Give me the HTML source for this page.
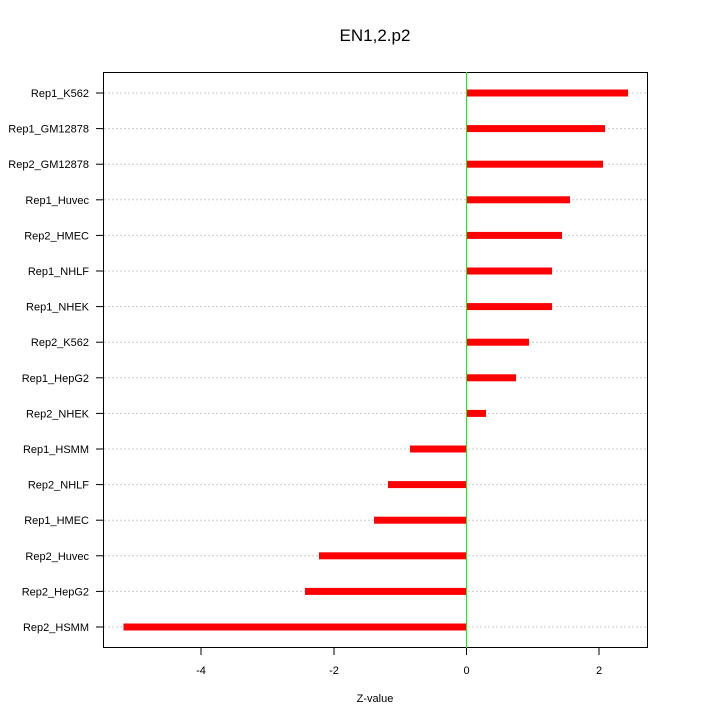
<!DOCTYPE html>
<html><head><style>body{margin:0;background:#fff}svg{display:block}text{font-family:"Liberation Sans",sans-serif;fill:#000}</style></head>
<body>
<svg width="720" height="720" xmlns="http://www.w3.org/2000/svg">
<text x="375" y="41" font-size="17" text-anchor="middle">EN1,2.p2</text>
<g stroke="#ccc" stroke-dasharray="2,2">
<line x1="104" x2="647" y1="93" y2="93"/><line x1="104" x2="647" y1="128.6" y2="128.6"/><line x1="104" x2="647" y1="164.2" y2="164.2"/><line x1="104" x2="647" y1="199.8" y2="199.8"/><line x1="104" x2="647" y1="235.4" y2="235.4"/><line x1="104" x2="647" y1="271" y2="271"/><line x1="104" x2="647" y1="306.6" y2="306.6"/><line x1="104" x2="647" y1="342.2" y2="342.2"/><line x1="104" x2="647" y1="377.8" y2="377.8"/><line x1="104" x2="647" y1="413.4" y2="413.4"/><line x1="104" x2="647" y1="449" y2="449"/><line x1="104" x2="647" y1="484.6" y2="484.6"/><line x1="104" x2="647" y1="520.2" y2="520.2"/><line x1="104" x2="647" y1="555.8" y2="555.8"/><line x1="104" x2="647" y1="591.4" y2="591.4"/><line x1="104" x2="647" y1="627" y2="627"/>
</g>
<g fill="#ff0000">
<rect x="466.5" y="89.5" width="161.5" height="7"/>
<rect x="466.5" y="125.1" width="138.5" height="7"/>
<rect x="466.5" y="160.7" width="136.5" height="7"/>
<rect x="466.5" y="196.3" width="103.5" height="7"/>
<rect x="466.5" y="231.9" width="95.5" height="7"/>
<rect x="466.5" y="267.5" width="85.5" height="7"/>
<rect x="466.5" y="303.1" width="85.5" height="7"/>
<rect x="466.5" y="338.7" width="62.5" height="7"/>
<rect x="466.5" y="374.3" width="49.5" height="7"/>
<rect x="466.5" y="409.9" width="19.5" height="7"/>
<rect x="410" y="445.5" width="56.5" height="7"/>
<rect x="388" y="481.1" width="78.5" height="7"/>
<rect x="374" y="516.7" width="92.5" height="7"/>
<rect x="319" y="552.3" width="147.5" height="7"/>
<rect x="305" y="587.9" width="161.5" height="7"/>
<rect x="123.5" y="623.5" width="343" height="7"/>
</g>
<rect x="103.5" y="72.5" width="544" height="575" fill="none" stroke="#000" stroke-width="1"/>
<line x1="466.5" y1="72" x2="466.5" y2="648" stroke="#00ff00" stroke-width="1"/>
<g stroke="#000">
<line x1="201" y1="648" x2="201" y2="655"/><line x1="334" y1="648" x2="334" y2="655"/><line x1="466.5" y1="648" x2="466.5" y2="655"/><line x1="599" y1="648" x2="599" y2="655"/>
<line x1="96" x2="103" y1="93" y2="93"/><line x1="96" x2="103" y1="128.6" y2="128.6"/><line x1="96" x2="103" y1="164.2" y2="164.2"/><line x1="96" x2="103" y1="199.8" y2="199.8"/><line x1="96" x2="103" y1="235.4" y2="235.4"/><line x1="96" x2="103" y1="271" y2="271"/><line x1="96" x2="103" y1="306.6" y2="306.6"/><line x1="96" x2="103" y1="342.2" y2="342.2"/><line x1="96" x2="103" y1="377.8" y2="377.8"/><line x1="96" x2="103" y1="413.4" y2="413.4"/><line x1="96" x2="103" y1="449" y2="449"/><line x1="96" x2="103" y1="484.6" y2="484.6"/><line x1="96" x2="103" y1="520.2" y2="520.2"/><line x1="96" x2="103" y1="555.8" y2="555.8"/><line x1="96" x2="103" y1="591.4" y2="591.4"/><line x1="96" x2="103" y1="627" y2="627"/>
</g>
<g font-size="11" text-anchor="end">
<text x="89" y="97">Rep1_K562</text>
<text x="89" y="132.6">Rep1_GM12878</text>
<text x="89" y="168.2">Rep2_GM12878</text>
<text x="89" y="203.8">Rep1_Huvec</text>
<text x="89" y="239.4">Rep2_HMEC</text>
<text x="89" y="275">Rep1_NHLF</text>
<text x="89" y="310.6">Rep1_NHEK</text>
<text x="89" y="346.2">Rep2_K562</text>
<text x="89" y="381.8">Rep1_HepG2</text>
<text x="89" y="417.4">Rep2_NHEK</text>
<text x="89" y="453">Rep1_HSMM</text>
<text x="89" y="488.6">Rep2_NHLF</text>
<text x="89" y="524.2">Rep1_HMEC</text>
<text x="89" y="559.8">Rep2_Huvec</text>
<text x="89" y="595.4">Rep2_HepG2</text>
<text x="89" y="631">Rep2_HSMM</text>
</g>
<g font-size="11" text-anchor="middle">
<text x="201" y="674">-4</text><text x="334" y="674">-2</text><text x="466.5" y="674">0</text><text x="599" y="674">2</text>
<text x="375" y="702">Z-value</text>
</g>
</svg>
</body></html>
